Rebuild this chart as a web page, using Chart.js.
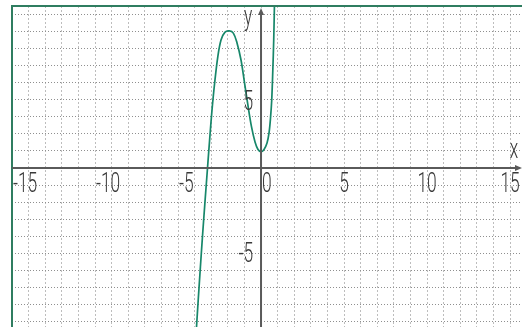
<!DOCTYPE html>
<html>
<head>
<meta charset="utf-8">
<script src="https://cdn.jsdelivr.net/npm/chart.js@4"></script>
<style>
    html, body { margin: 0; padding: 0; background: #ffffff; }
    #plot { display: block; }
</style>
</head>
<body>
<canvas id="plot" width="522" height="327"></canvas>
<script>
// Curve samples
const curveX = [-3.886, -3.783, -3.651, -3.512, -3.367, -3.217, -3.066, -2.952, -2.795, -2.602, -2.410, -2.181, -1.910,
    -1.669, -1.446, -1.205, -0.994, -0.783, -0.572, -0.361, -0.181, 0.000,
    0.181, 0.361, 0.482, 0.572, 0.645, 0.711, 0.765, 0.807];
const curveY = [-9.31, -7.73, -5.78, -3.81, -1.87, 0.08, 2.03, 3.40, 4.96, 6.52, 7.49, 7.94, 8.02,
    7.89, 7.32, 6.32, 4.98, 3.63, 2.40, 1.52, 1.08, 0.95,
    1.08, 1.46, 2.05, 2.93, 3.98, 5.74, 7.49, 9.48];

// Axis ranges and labelled ticks
const xRange = [-15, 15.72];
const yRange = [-9.31, 9.48];
const xTickLabels = [-15, -10, -5, 0, 5, 10, 15];
const yTickLabels = [5, -5];

const axisColor = '#5a5a5a';
const textColor = '#3a3a3a';
const frameColor = '#2f7d60';
const curveColor = '#17876a';

function drawText(ctx, text, x, y, align, baseline) {
    ctx.save();
    ctx.translate(x, y);
    ctx.scale(0.62, 1);
    ctx.textAlign = align;
    ctx.textBaseline = baseline;
    ctx.fillText(text, 0, 0);
    ctx.restore();
}

// Axes through the origin, frame, arrows and labels
const axesPlugin = {
    id: 'axesPlugin',
    afterDraw(chart) {
        const ctx = chart.ctx;
        const area = chart.chartArea;
        const xs = chart.scales.x;
        const ys = chart.scales.y;
        const ox = xs.getPixelForValue(0);
        const oy = ys.getPixelForValue(0);

        ctx.save();
        // frame
        ctx.strokeStyle = frameColor;
        ctx.lineWidth = 2;
        ctx.beginPath();
        ctx.moveTo(area.left, area.bottom);
        ctx.lineTo(area.left, area.top);
        ctx.lineTo(area.right, area.top);
        ctx.stroke();

        // axes
        ctx.strokeStyle = axisColor;
        ctx.fillStyle = axisColor;
        ctx.lineWidth = 2;
        ctx.beginPath();
        ctx.moveTo(area.left, oy);
        ctx.lineTo(area.right - 3, oy);
        ctx.moveTo(ox, area.bottom);
        ctx.lineTo(ox, area.top + 6);
        ctx.stroke();

        ctx.beginPath();
        ctx.moveTo(area.right, oy);
        ctx.lineTo(area.right - 7, oy - 3);
        ctx.lineTo(area.right - 7, oy + 3);
        ctx.closePath();
        ctx.fill();
        ctx.beginPath();
        ctx.moveTo(ox, area.top + 2);
        ctx.lineTo(ox - 3, area.top + 9);
        ctx.lineTo(ox + 3, area.top + 9);
        ctx.closePath();
        ctx.fill();

        // tick labels
        ctx.fillStyle = textColor;
        ctx.font = '300 28px Roboto';
        xTickLabels.forEach(v => {
            const px = xs.getPixelForValue(v);
            const label = v < 0 ? '-' + Math.abs(v) : String(v);
            if (v <= 0) {
                drawText(ctx, label, px + 1, oy + 3, 'left', 'top');
            } else {
                drawText(ctx, label, px, oy + 3, 'center', 'top');
            }
        });
        yTickLabels.forEach(v => {
            const py = ys.getPixelForValue(v);
            const label = v < 0 ? '-' + Math.abs(v) : String(v);
            if (v > 0) {
                drawText(ctx, label, ox - 8, py + 6, 'right', 'top');
            } else {
                drawText(ctx, label, ox - 8, py + 2, 'right', 'middle');
            }
        });

        // axis names
        drawText(ctx, 'x', area.right - 8, oy - 10, 'center', 'alphabetic');
        drawText(ctx, 'y', ox - 13, area.top + 19, 'center', 'alphabetic');
        ctx.restore();
    }
};

const points = curveX.map((x, i) => ({ x: x, y: curveY[i] }));

new Chart(document.getElementById('plot'), {
    type: 'scatter',
    data: {
        datasets: [{
            data: points,
            showLine: true,
            borderColor: curveColor,
            borderWidth: 1.7,
            pointRadius: 0,
            tension: 0.35,
            fill: false
        }]
    },
    options: {
        responsive: false,
        animation: false,
        devicePixelRatio: 1,
        layout: { padding: { left: 12, top: 6, right: 0, bottom: 0 } },
        plugins: {
            legend: { display: false },
            tooltip: { enabled: false }
        },
        scales: {
            x: {
                type: 'linear',
                min: xRange[0],
                max: xRange[1],
                ticks: { display: false, stepSize: 1, includeBounds: false },
                grid: { color: '#bdbdbd', lineWidth: 1, drawTicks: false },
                border: { display: false, dash: [2, 2] }
            },
            y: {
                type: 'linear',
                min: yRange[0],
                max: yRange[1],
                ticks: { display: false, stepSize: 1, includeBounds: false },
                grid: { color: '#8f8f8f', lineWidth: 1, drawTicks: false },
                border: { display: false, dash: [1, 2] }
            }
        }
    },
    plugins: [axesPlugin]
});
</script>
</body>
</html>
